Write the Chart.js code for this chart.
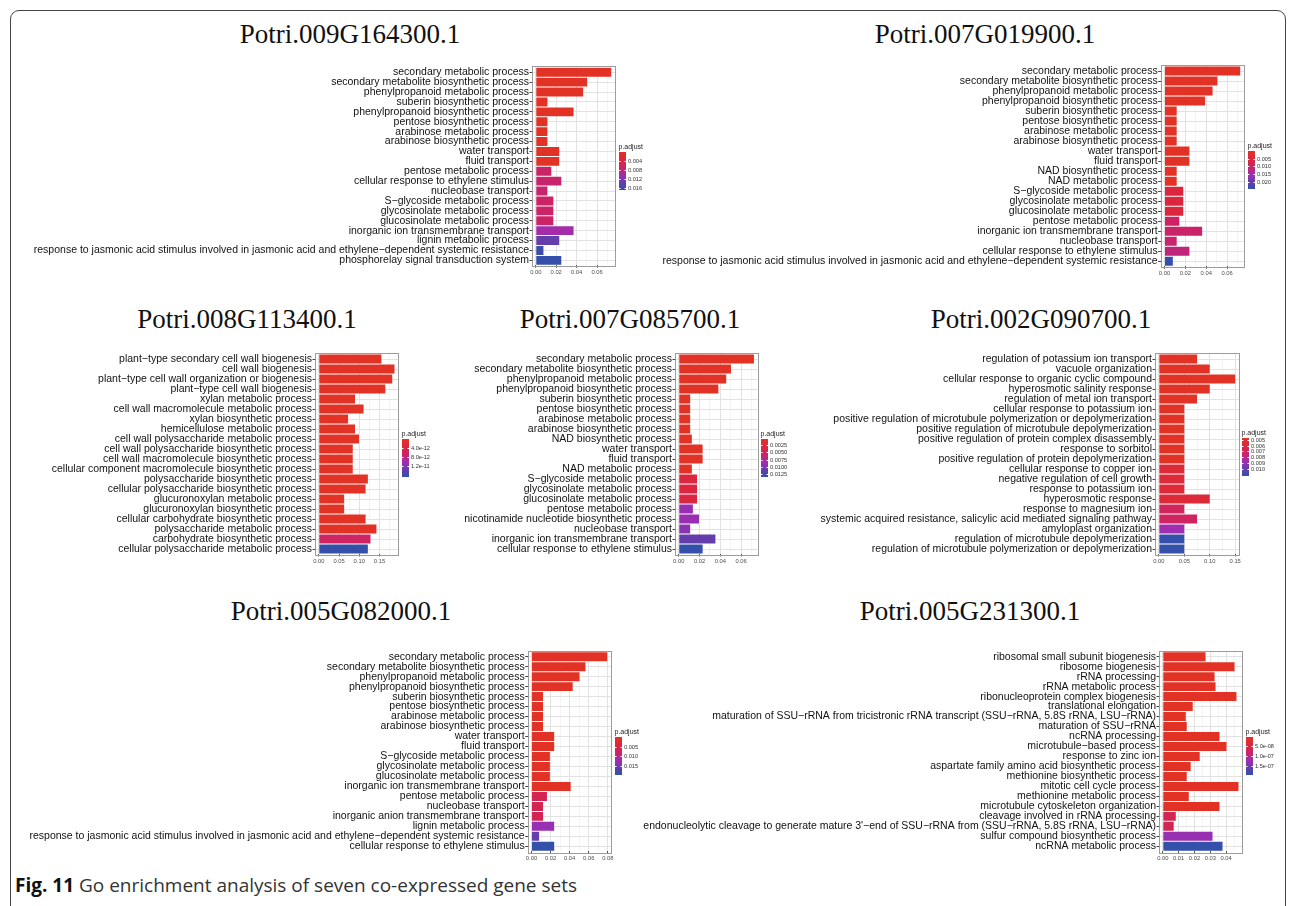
<!DOCTYPE html>
<html>
<head>
<meta charset="utf-8">
<script src="https://cdn.jsdelivr.net/npm/chart.js@4.4.1/dist/chart.umd.min.js"></script>
<style>
  body { margin:0; width:1292px; height:906px; background:#fff; position:relative; overflow:hidden; }
  .frame { position:absolute; left:10px; top:10px; width:1274px; height:1000px; border:1px solid #444; border-radius:9px; }
  canvas { position:absolute; }
  .title { position:absolute; font-family:'Liberation Serif','Times New Roman',serif; font-size:27px; color:#111; transform:translate(-50%,-50%); white-space:nowrap; }
  .caption { position:absolute; left:15px; top:872px; font-family:'Open Sans',sans-serif; font-size:19px; color:#333; white-space:nowrap; }
  .caption b { color:#111; }
</style>
</head>
<body>
<div class="frame"></div>
<div class="caption"><b>Fig. 11</b> Go enrichment analysis of seven co-expressed gene sets</div>
<script>
// ---- data (GeneRatio and p.adjust per term) ----
const jasmonic = 'response to jasmonic acid stimulus involved in jasmonic acid and ethylene−dependent systemic resistance';

const p1Terms = ['secondary metabolic process','secondary metabolite biosynthetic process','phenylpropanoid metabolic process','suberin biosynthetic process','phenylpropanoid biosynthetic process','pentose biosynthetic process','arabinose metabolic process','arabinose biosynthetic process','water transport','fluid transport','pentose metabolic process','cellular response to ethylene stimulus','nucleobase transport','S−glycoside metabolic process','glycosinolate metabolic process','glucosinolate metabolic process','inorganic ion transmembrane transport','lignin metabolic process',jasmonic,'phosphorelay signal transduction system'];
const p1Ratio = [0.0739,0.0503,0.0464,0.0114,0.037,0.0114,0.0114,0.0114,0.023,0.023,0.0152,0.025,0.0114,0.0172,0.0172,0.0172,0.037,0.023,0.0075,0.025];
const p1Padj = [0.0002,0.0002,0.0002,0.0002,0.0002,0.0002,0.0002,0.0002,0.0002,0.0002,0.0072,0.0075,0.0076,0.0070,0.0070,0.0070,0.0103,0.0140,0.0166,0.0170];
const p1Ticks = ['0.00','0.02','0.04','0.06'];
const p1Legend = ['0.004','0.008','0.012','0.016'];

const p2Terms = ['secondary metabolic process','secondary metabolite biosynthetic process','phenylpropanoid metabolic process','phenylpropanoid biosynthetic process','suberin biosynthetic process','pentose biosynthetic process','arabinose metabolic process','arabinose biosynthetic process','water transport','fluid transport','NAD biosynthetic process','NAD metabolic process','S−glycoside metabolic process','glycosinolate metabolic process','glucosinolate metabolic process','pentose metabolic process','inorganic ion transmembrane transport','nucleobase transport','cellular response to ethylene stimulus',jasmonic];
const p2Ratio = [0.0726,0.0508,0.0461,0.0389,0.0117,0.0117,0.0117,0.0117,0.0239,0.0239,0.0117,0.0117,0.018,0.018,0.018,0.0142,0.0361,0.0117,0.0239,0.008];
const p2Padj = [0.0002,0.0002,0.0002,0.0002,0.0002,0.0002,0.0002,0.0002,0.0002,0.0002,0.0002,0.0002,0.005,0.005,0.005,0.0098,0.0103,0.0106,0.0115,0.0243];
const p2Ticks = ['0.00','0.02','0.04','0.06'];
const p2Legend = ['0.005','0.010','0.015','0.020'];

const p3Terms = ['plant−type secondary cell wall biogenesis','cell wall biogenesis','plant−type cell wall organization or biogenesis','plant−type cell wall biogenesis','xylan metabolic process','cell wall macromolecule metabolic process','xylan biosynthetic process','hemicellulose metabolic process','cell wall polysaccharide metabolic process','cell wall polysaccharide biosynthetic process','cell wall macromolecule biosynthetic process','cellular component macromolecule biosynthetic process','polysaccharide biosynthetic process','cellular polysaccharide biosynthetic process','glucuronoxylan metabolic process','glucuronoxylan biosynthetic process','cellular carbohydrate biosynthetic process','polysaccharide metabolic process','carbohydrate biosynthetic process','cellular polysaccharide metabolic process'];
const p3Ratio = [0.1546,0.1871,0.1815,0.1644,0.0895,0.1107,0.0724,0.0895,0.0993,0.0839,0.0839,0.0839,0.1212,0.1156,0.0627,0.0627,0.1156,0.1424,0.1278,0.1212];
const p3Padj = [1e-13,1e-13,1e-13,1e-13,1e-13,1e-13,1e-13,1e-13,1e-13,1e-13,1e-13,1e-13,1e-13,1e-13,1e-13,1e-13,1e-13,1e-13,6.5e-12,1.68e-11];
const p3Ticks = ['0.00','0.05','0.10','0.15'];
const p3Legend = ['4.0e-12','8.0e-12','1.2e-11'];

const p4Terms = ['secondary metabolic process','secondary metabolite biosynthetic process','phenylpropanoid metabolic process','phenylpropanoid biosynthetic process','suberin biosynthetic process','pentose biosynthetic process','arabinose metabolic process','arabinose biosynthetic process','NAD biosynthetic process','water transport','fluid transport','NAD metabolic process','S−glycoside metabolic process','glycosinolate metabolic process','glucosinolate metabolic process','pentose metabolic process','nicotinamide nucleotide biosynthetic process','nucleobase transport','inorganic ion transmembrane transport','cellular response to ethylene stimulus'];
const p4Ratio = [0.0724,0.0503,0.0457,0.0381,0.011,0.011,0.011,0.011,0.0126,0.023,0.023,0.0126,0.0176,0.0176,0.0176,0.0136,0.0195,0.011,0.0353,0.023];
const p4Padj = [0.00045,0.00045,0.00045,0.00045,0.00045,0.00045,0.00045,0.00045,0.00045,0.00045,0.00045,0.00045,0.0031,0.0031,0.0031,0.0089,0.0089,0.0096,0.0112,0.0135];
const p4Ticks = ['0.00','0.02','0.04','0.06'];
const p4Legend = ['0.0025','0.0050','0.0075','0.0100','0.0125'];

const p5Terms = ['regulation of potassium ion transport','vacuole organization','cellular response to organic cyclic compound','hyperosmotic salinity response','regulation of metal ion transport','cellular response to potassium ion','positive regulation of microtubule polymerization or depolymerization','positive regulation of microtubule depolymerization','positive regulation of protein complex disassembly','response to sorbitol','positive regulation of protein depolymerization','cellular response to copper ion','negative regulation of cell growth','response to potassium ion','hyperosmotic response','response to magnesium ion','systemic acquired resistance, salicylic acid mediated signaling pathway','amyloplast organization','regulation of microtubule depolymerization','regulation of microtubule polymerization or depolymerization'];
const p5Ratio = [0.075,0.1,0.15,0.1,0.075,0.05,0.05,0.05,0.05,0.05,0.05,0.05,0.05,0.05,0.1,0.05,0.075,0.05,0.05,0.05];
const p5Padj = [0.0047,0.0047,0.0047,0.0047,0.0047,0.0047,0.0047,0.0047,0.0047,0.0047,0.0047,0.0057,0.0057,0.0057,0.0057,0.0070,0.0071,0.0087,0.0112,0.0112];
const p5Ticks = ['0.00','0.05','0.10','0.15'];
const p5Legend = ['0.005','0.006','0.007','0.008','0.009','0.010'];

const p6Terms = ['secondary metabolic process','secondary metabolite biosynthetic process','phenylpropanoid metabolic process','phenylpropanoid biosynthetic process','suberin biosynthetic process','pentose biosynthetic process','arabinose metabolic process','arabinose biosynthetic process','water transport','fluid transport','S−glycoside metabolic process','glycosinolate metabolic process','glucosinolate metabolic process','inorganic ion transmembrane transport','pentose metabolic process','nucleobase transport','inorganic anion transmembrane transport','lignin metabolic process',jasmonic,'cellular response to ethylene stimulus'];
const p6Ratio = [0.0794,0.0566,0.0504,0.0432,0.0121,0.0121,0.0121,0.0121,0.0238,0.0238,0.0193,0.0193,0.0193,0.0411,0.0162,0.0121,0.0121,0.0238,0.008,0.0238];
const p6Padj = [0.0001,0.0001,0.0001,0.0001,0.0001,0.0001,0.0001,0.0001,0.0001,0.0001,0.0001,0.0001,0.0001,0.0001,0.0062,0.0062,0.0062,0.0127,0.0160,0.0195];
const p6Ticks = ['0.00','0.02','0.04','0.06','0.08'];
const p6Legend = ['0.005','0.010','0.015'];

const p7Terms = ['ribosomal small subunit biogenesis','ribosome biogenesis','rRNA processing','rRNA metabolic process','ribonucleoprotein complex biogenesis','translational elongation','maturation of SSU−rRNA from tricistronic rRNA transcript (SSU−rRNA, 5.8S rRNA, LSU−rRNA)','maturation of SSU−rRNA','ncRNA processing','microtubule−based process','response to zinc ion','aspartate family amino acid biosynthetic process','methionine biosynthetic process','mitotic cell cycle process','methionine metabolic process','microtubule cytoskeleton organization','cleavage involved in rRNA processing',"endonucleolytic cleavage to generate mature 3'−end of SSU−rRNA from (SSU−rRNA, 5.8S rRNA, LSU−rRNA)",'sulfur compound biosynthetic process','ncRNA metabolic process'];
const p7Ratio = [0.027,0.0453,0.0327,0.0333,0.0465,0.0189,0.0145,0.0151,0.0358,0.0402,0.0233,0.0176,0.0151,0.0478,0.0164,0.0358,0.0082,0.0069,0.0314,0.0377];
const p7Padj = [3.4e-9,3.4e-9,3.4e-9,3.4e-9,3.4e-9,3.4e-9,3.4e-9,3.4e-9,3.4e-9,3.4e-9,3.4e-9,3.4e-9,3.4e-9,3.4e-9,3.4e-9,3.4e-9,6.2e-8,6.2e-8,1.3e-7,1.98e-7];
const p7Ticks = ['0.00','0.01','0.02','0.03','0.04'];
const p7Legend = ['5.0e-08','1.0e-07','1.5e-07'];

// ---- layout of each panel (page pixels) ----
const panels = [
  { title:'Potri.009G164300.1', titleAt:[350,34], terms:p1Terms, ratio:p1Ratio, padj:p1Padj, ticks:p1Ticks, legend:p1Legend, canvas:[20,55,650,230], box:[532,615,67.3,265.3], bar:[619,151.7] },
  { title:'Potri.007G019900.1', titleAt:[985,34], terms:p2Terms, ratio:p2Ratio, padj:p2Padj, ticks:p2Ticks, legend:p2Legend, canvas:[640,55,650,230], box:[1160.7,1244,66,266.3], bar:[1248,151] },
  { title:'Potri.008G113400.1', titleAt:[247,319], terms:p3Terms, ratio:p3Ratio, padj:p3Padj, ticks:p3Ticks, legend:p3Legend, canvas:[25,340,435,230], box:[315,398.3,354,554], bar:[402,439] },
  { title:'Potri.007G085700.1', titleAt:[630,319], terms:p4Terms, ratio:p4Ratio, padj:p4Padj, ticks:p4Ticks, legend:p4Legend, canvas:[440,340,370,230], box:[675,757.7,354,554], bar:[761,439] },
  { title:'Potri.002G090700.1', titleAt:[1041,319], terms:p5Terms, ratio:p5Ratio, padj:p5Padj, ticks:p5Ticks, legend:p5Legend, canvas:[800,340,490,230], box:[1155,1239,354,554], bar:[1242,438.3] },
  { title:'Potri.005G082000.1', titleAt:[341,611], terms:p6Terms, ratio:p6Ratio, padj:p6Padj, ticks:p6Ticks, legend:p6Legend, canvas:[20,640,630,230], box:[527.7,611,651.7,851.3], bar:[615,736.7] },
  { title:'Potri.005G231300.1', titleAt:[970,611], terms:p7Terms, ratio:p7Ratio, padj:p7Padj, ticks:p7Ticks, legend:p7Legend, canvas:[630,640,660,230], box:[1159,1242.3,651.7,851.3], bar:[1246,736.7] }
];

const SANS = "'Liberation Sans', Arial, Helvetica, sans-serif";
Chart.defaults.font.family = SANS;

// red -> blue ramp as printed
const stops = [[0,[226,50,38]],[0.2,[220,38,62]],[0.42,[203,35,105]],[0.62,[160,45,178]],[0.82,[100,62,170]],[1,[52,80,170]]];
function ramp(t) {
  t = Math.max(0, Math.min(1, t));
  for (let i = 1; i < stops.length; i++) {
    if (t <= stops[i][0]) {
      const [t0, c0] = stops[i-1], [t1, c1] = stops[i];
      const f = (t - t0) / (t1 - t0);
      const c = c0.map((v, k) => Math.round(v + (c1[k] - v) * f));
      return 'rgb(' + c.join(',') + ')';
    }
  }
  return 'rgb(52,80,170)';
}

const boxPlugin = {
  id: 'panelBox',
  afterDraw(chart) {
    const a = chart.chartArea, ctx = chart.ctx;
    ctx.save();
    ctx.strokeStyle = '#9c9c9c';
    ctx.lineWidth = 1;
    ctx.strokeRect(Math.round(a.left) + 0.5, Math.round(a.top - 1) + 0.5, Math.round(a.right - a.left), Math.round(a.bottom - a.top + 2));
    ctx.restore();
  }
};

const legendPlugin = {
  id: 'padjBar',
  afterDraw(chart) {
    const p = chart.options.plugins.padjBar;
    const ctx = chart.ctx;
    const lo = Math.min(...p.padj), hi = Math.max(...p.padj);
    const x = Math.round(p.x), top = Math.round(p.y), w = 7, h = 38;
    ctx.save();
    for (let i = 0; i < h; i++) {
      ctx.fillStyle = ramp(i / (h - 1));
      ctx.fillRect(x, top + i, w, 1);
    }
    ctx.fillStyle = '#222';
    ctx.font = '7px ' + SANS;
    ctx.textBaseline = 'bottom';
    ctx.textAlign = 'left';
    ctx.fillText('p.adjust', x - 0.5, top - 1.5);
    ctx.font = '5.6px ' + SANS;
    ctx.textBaseline = 'middle';
    ctx.strokeStyle = '#fff';
    ctx.lineWidth = 1;
    p.labels.forEach(lab => {
      const v = Number(lab);
      const y = Math.round(top + (v - lo) / (hi - lo) * h) + 0.5;
      ctx.beginPath();
      ctx.moveTo(x, y); ctx.lineTo(x + 1.5, y);
      ctx.moveTo(x + w - 1.5, y); ctx.lineTo(x + w, y);
      ctx.stroke();
      ctx.fillStyle = '#333';
      ctx.fillText(lab, x + w + 2, y);
    });
    ctx.restore();
  }
};

panels.forEach(pn => {
  const [cx, cy, cw, ch] = pn.canvas;
  const [bl, br, bt, bb] = pn.box;

  const t = document.createElement('div');
  t.className = 'title';
  t.textContent = pn.title;
  t.style.left = pn.titleAt[0] + 'px';
  t.style.top = pn.titleAt[1] + 'px';
  document.body.appendChild(t);

  const cv = document.createElement('canvas');
  cv.width = cw; cv.height = ch;
  cv.style.left = cx + 'px'; cv.style.top = cy + 'px';
  document.body.appendChild(cv);

  const lo = Math.min(...pn.padj), hi = Math.max(...pn.padj);
  const vmax = Math.max(...pn.ratio);
  const xmin = -0.05 * vmax, xmax = 1.05 * vmax;
  const majors = pn.ticks.map(Number);
  const step = majors[1] - majors[0];
  const minors = [];
  for (let v = step / 2; v <= xmax; v += step) minors.push(v);
  const tickLabel = {};
  pn.ticks.forEach(s => { tickLabel[Number(s).toFixed(6)] = s; });

  new Chart(cv, {
    type: 'bar',
    data: {
      labels: pn.terms,
      datasets: [{
        data: pn.ratio,
        backgroundColor: pn.padj.map(p => ramp((p - lo) / (hi - lo))),
        borderWidth: 0,
        barPercentage: 0.9,
        categoryPercentage: 1
      }]
    },
    options: {
      indexAxis: 'y',
      responsive: false,
      animation: false,
      layout: { padding: { top: bt - cy, right: cx + cw - br, bottom: 0, left: 0 } },
      plugins: {
        legend: { display: false },
        tooltip: { enabled: false },
        padjBar: { padj: pn.padj, labels: pn.legend, x: pn.bar[0] - cx, y: pn.bar[1] - cy }
      },
      scales: {
        x: {
          type: 'linear',
          min: xmin,
          max: xmax,
          afterBuildTicks: s => {
            s.ticks = majors.map(v => ({ value: v, isMajor: true }))
              .concat(minors.map(v => ({ value: v, isMajor: false })))
              .sort((a, b) => a.value - b.value);
          },
          afterFit: s => { s.height = cy + ch - bb; },
          ticks: {
            autoSkip: false,
            maxRotation: 0,
            padding: 1,
            color: '#4d4d4d',
            font: { size: 5.8 },
            callback: v => tickLabel[Number(v).toFixed(6)] || ''
          },
          grid: {
            color: c => (c.tick && c.tick.isMajor) ? '#e2e2e2' : '#efefef',
            lineWidth: c => (c.tick && c.tick.isMajor) ? 1 : 0.7,
            tickColor: c => (c.tick && c.tick.isMajor) ? '#555' : 'rgba(0,0,0,0)',
            tickLength: 2.5
          },
          border: { display: false }
        },
        y: {
          afterFit: s => { s.width = bl - cx; },
          ticks: {
            autoSkip: false,
            padding: 0.5,
            color: '#111',
            font: { size: 10.5 }
          },
          grid: {
            offset: false,
            color: '#e2e2e2',
            lineWidth: 1,
            tickColor: '#444',
            tickLength: 2.5
          },
          border: { display: false }
        }
      }
    },
    plugins: [boxPlugin, legendPlugin]
  });
});
</script>
</body>
</html>
